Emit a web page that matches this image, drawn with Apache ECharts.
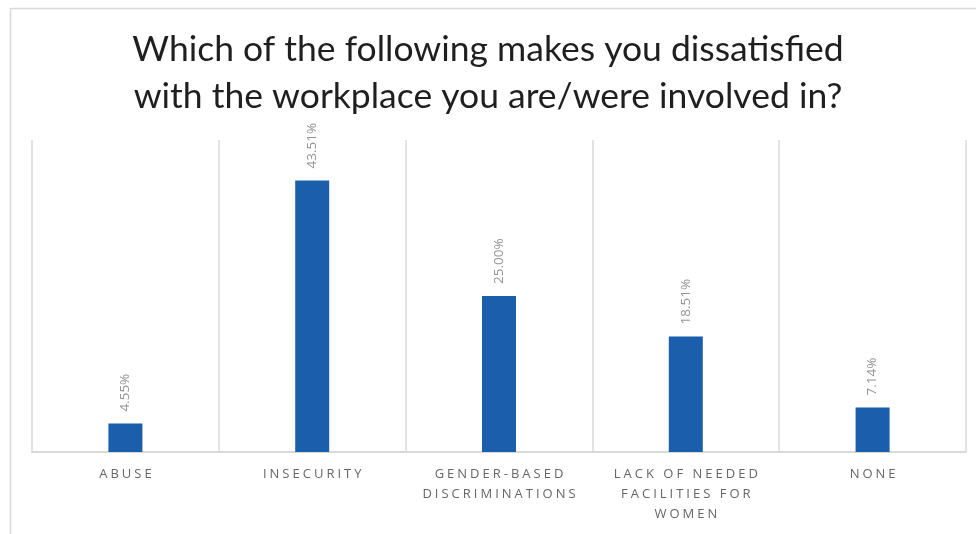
<!DOCTYPE html>
<html>
<head>
<meta charset="utf-8">
<script src="https://cdn.jsdelivr.net/npm/echarts@6/dist/echarts.min.js"></script>
<style>
  html, body { margin: 0; padding: 0; background: #ffffff; }
  #chart { width: 976px; height: 534px; }
</style>
</head>
<body>
<div id="chart"></div>
<script>
// Survey answers: share of respondents per reason (percent)
const categories = [
  'ABUSE',
  'INSECURITY',
  'GENDER-BASED\nDISCRIMINATIONS',
  'LACK OF NEEDED\nFACILITIES FOR\nWOMEN',
  'NONE'
];
const shares = [4.55, 43.51, 25.00, 18.51, 7.14];
const titleText = 'Which of the following makes you dissatisfied\nwith the workplace you are/were involved in?';

// Category labels are drawn tracked out (letter-spaced); canvas supports
// letterSpacing natively, so apply it to the 13px axis-label font only.
const AXIS_FONT_SIZE = 13;
const origFillText = CanvasRenderingContext2D.prototype.fillText;
CanvasRenderingContext2D.prototype.fillText = function (text, x, y, maxWidth) {
  if ('letterSpacing' in this) {
    const spaced = this.font && this.font.indexOf(AXIS_FONT_SIZE + 'px') >= 0;
    this.letterSpacing = spaced ? '3px' : '0px';
    if (spaced && this.textAlign === 'center') x += 1.5;
  }
  return maxWidth === undefined
    ? origFillText.call(this, text, x, y)
    : origFillText.call(this, text, x, y, maxWidth);
};

const chart = echarts.init(document.getElementById('chart'), null, { renderer: 'canvas' });

chart.setOption({
  animation: false,
  backgroundColor: '#ffffff',
  title: {
    text: titleText,
    left: 'center',
    top: 21,
    textStyle: {
      fontFamily: 'Lato',
      fontSize: 35.5,
      fontWeight: 'normal',
      color: '#1f1f1f',
      lineHeight: 47
    }
  },
  graphic: [{
    type: 'rect',
    left: 8,
    top: 6,
    shape: { width: 1000, height: 600 },
    style: { fill: 'none', stroke: '#d9d9d9', lineWidth: 1.5 },
    silent: true,
    z: -1
  }],
  grid: { left: 32, right: 10, top: 140, bottom: 82 },
  xAxis: {
    type: 'category',
    data: categories,
    axisLine: { lineStyle: { color: '#d9d9d9', width: 2 } },
    axisTick: { show: false },
    splitLine: { show: true, lineStyle: { color: '#d9d9d9', width: 1.5 } },
    axisLabel: {
      interval: 0,
      margin: 12,
      fontFamily: 'Open Sans',
      fontSize: AXIS_FONT_SIZE,
      color: '#666666',
      lineHeight: 20
    }
  },
  yAxis: {
    type: 'value',
    min: 0,
    max: 50,
    show: false,
    splitLine: { show: false }
  },
  series: [{
    type: 'bar',
    data: shares,
    barWidth: 34,
    itemStyle: { color: '#1b5eab' },
    label: {
      show: true,
      position: 'top',
      rotate: 90,
      align: 'left',
      verticalAlign: 'middle',
      distance: 12,
      formatter: p => p.value.toFixed(2) + '%',
      fontFamily: 'Open Sans',
      fontSize: 13.5,
      color: '#939393'
    }
  }]
});
</script>
</body>
</html>
